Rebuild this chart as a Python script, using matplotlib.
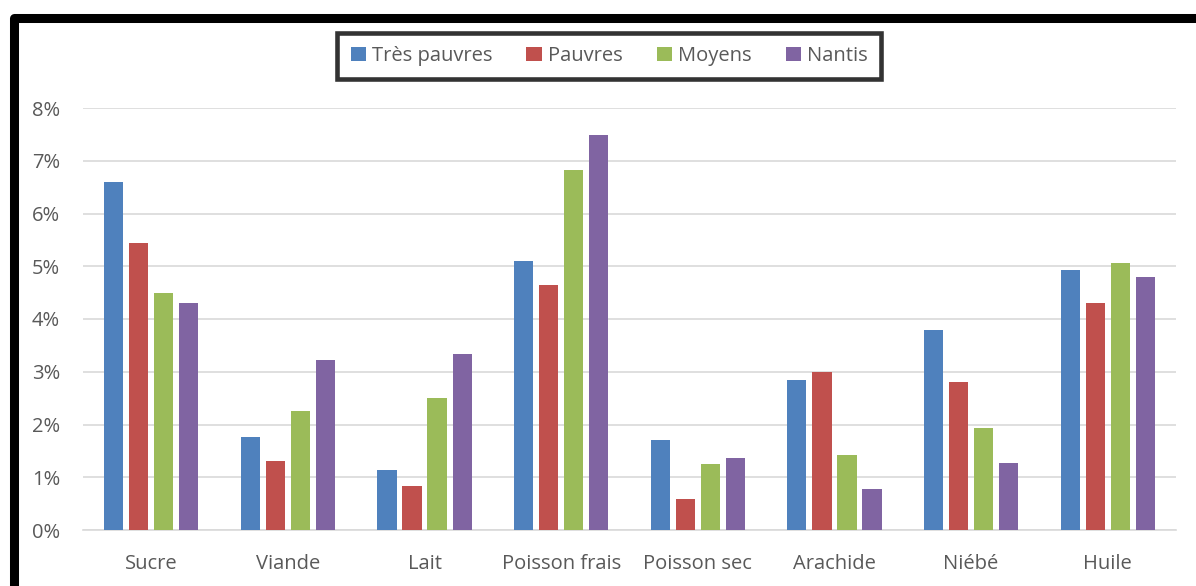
import matplotlib
matplotlib.use("Agg")
import matplotlib.pyplot as plt
import numpy as np
from matplotlib.lines import Line2D
from matplotlib.ticker import FuncFormatter

categories = ["Sucre", "Viande", "Lait", "Poisson frais", "Poisson sec",
              "Arachide", "Niébé", "Huile"]
series_names = ["Très pauvres", "Pauvres", "Moyens", "Nantis"]
tres_pauvres = [6.60, 1.76, 1.14, 5.10, 1.71, 2.84, 3.79, 4.93]
pauvres = [5.44, 1.31, 0.84, 4.64, 0.59, 3.00, 2.81, 4.30]
moyens = [4.50, 2.26, 2.50, 6.82, 1.25, 1.42, 1.93, 5.06]
nantis = [4.30, 3.22, 3.34, 7.48, 1.37, 0.77, 1.27, 4.80]
colors = ["#4F81BD", "#C0504D", "#9BBB59", "#8064A2"]

plt.rcParams["font.family"] = ["Open Sans", "DejaVu Sans"]
W, H = 1196, 586
fig = plt.figure(figsize=(W / 100, H / 100), dpi=100)
fig.patch.set_facecolor("white")

ax = fig.add_axes([83 / W, (H - 530) / H, (1176 - 83) / W, (530 - 108) / H])

x = np.arange(len(categories))
slot = 0.183
width = 0.14
for i, (vals, name, c) in enumerate(zip([tres_pauvres, pauvres, moyens, nantis],
                                        series_names, colors)):
    ax.bar(x + (i - 1.5) * slot, vals, width=width, color=c, label=name, zorder=3)

ax.set_xlim(-0.5, len(categories) - 0.5)
ax.set_ylim(0, 8)
ax.set_yticks(range(0, 9))
ax.yaxis.set_major_formatter(FuncFormatter(lambda v, p: f"{int(v)}%"))
ax.set_xticks(x)
ax.set_xticklabels(categories)
ax.grid(axis="y", color="#D9D9D9", linewidth=1.2, zorder=0)
for s in ["top", "right", "left"]:
    ax.spines[s].set_visible(False)
ax.spines["bottom"].set_color("#D9D9D9")
ax.spines["bottom"].set_linewidth(1.2)
ax.tick_params(axis="both", length=0, colors="#595959", labelsize=14.5)
ax.tick_params(axis="x", pad=17)
ax.tick_params(axis="y", pad=16.5)

leg = fig.legend(loc="center", bbox_to_anchor=(609 / W, 1 - 56 / H), ncol=4,
                 frameon=True, fancybox=False, fontsize=14.5, handlelength=0.75,
                 handleheight=0.75, handletextpad=0.3, columnspacing=1.7,
                 borderpad=0.65, borderaxespad=0)
for t in leg.get_texts():
    t.set_color("#595959")
frame = leg.get_frame()
frame.set_edgecolor("black")
frame.set_linewidth(3.3)

# outer frame along the top and left edges
fig.add_artist(Line2D([13.5 / W, 13.5 / W, 1.02], [-0.02, 1 - 17.5 / H, 1 - 17.5 / H],
                      transform=fig.transFigure, color="black", linewidth=6.5,
                      solid_joinstyle="round"))

fig.savefig("out.png", dpi=100, facecolor="white")
